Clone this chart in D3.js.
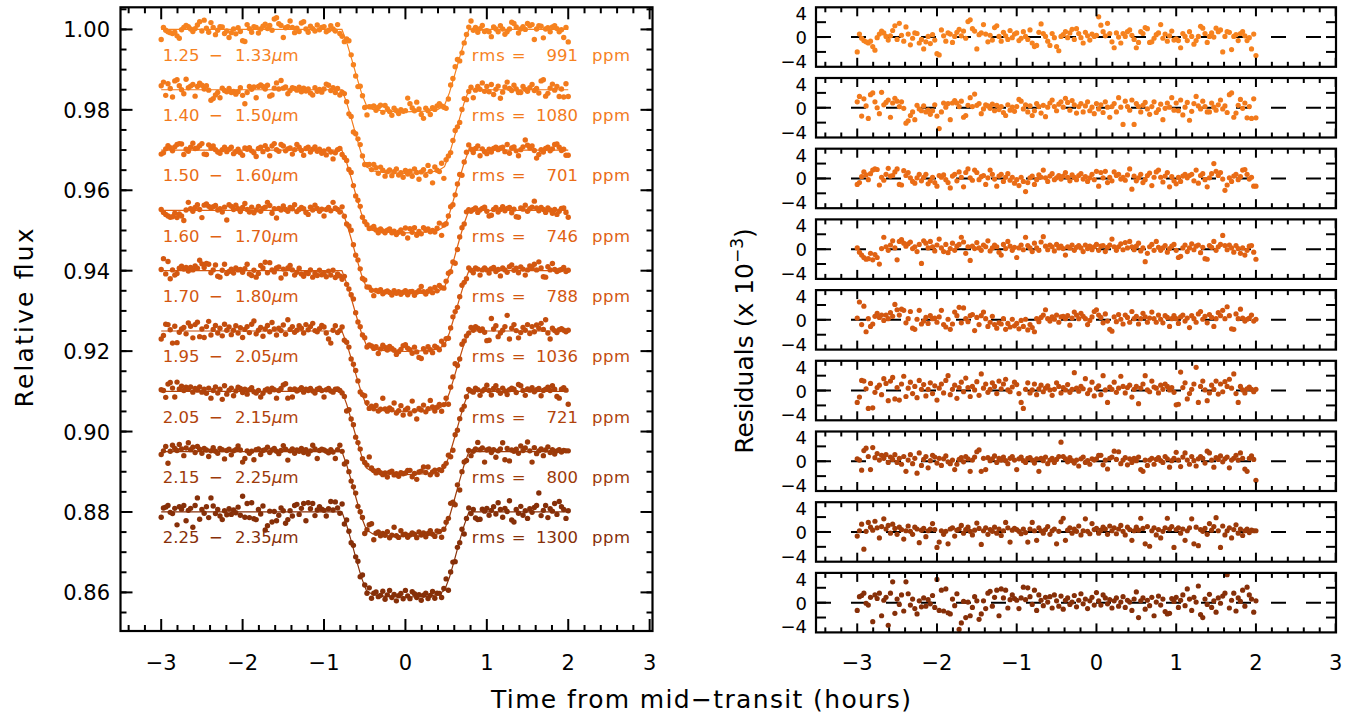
<!DOCTYPE html>
<html><head><meta charset="utf-8">
<script src="https://cdn.jsdelivr.net/npm/d3@7"></script>
<style>
body{margin:0;background:#fff;}
svg{display:block;font-family:"DejaVu Sans",sans-serif;}
</style></head><body>
<svg id="chart" width="1351" height="718"></svg>
<script>
// ---------------- DATA ----------------
const bandLo = ["1.25","1.40","1.50","1.60","1.70","1.95","2.05","2.15","2.25"];
const bandHi = ["1.33","1.50","1.60","1.70","1.80","2.05","2.15","2.25","2.35"];
const rmsPpm = [991,1080,701,746,788,1036,721,800,1300];
const baselines = [1.000,0.985,0.970,0.955,0.940,0.925,0.910,0.895,0.880];
const depths = [0.0205,0.0208,0.0206,0.0208,0.0201,0.0200,0.0207,0.0211,0.0212];
const colors = ["#F6821F","#F27A1C","#EA6C16","#E06213","#D35710","#C34D0D","#B0430B","#9C3A09","#862F08"];
// transit model: normalised depth profile at knots (hours)
const modelTimes = [-3.0,-0.78,-0.72,-0.66,-0.60,-0.54,-0.48,-0.40,-0.25,0,0.25,0.40,0.48,0.54,0.60,0.66,0.72,0.78,2.0];
const modelShape = [0,0,0.16,0.36,0.57,0.77,0.92,0.97,0.99,1.0,0.99,0.97,0.92,0.77,0.57,0.36,0.16,0,0];
// observation times: 181 exposures from -3 h to +2 h
const nObs = 181, tStart = -3.0, tCadence = 1/36;
const times = d3.range(nObs).map(k => tStart + k * tCadence);
// residuals (x 1e-3)
const res1 = [-2.5,0.5,-0.2,-0.6,-0.8,-1.0,-0.7,-1.6,-2.2,-0.1,0.5,1.0,0.7,0.1,-0.5,0.2,1.1,1.9,-0.4,2.3,0.3,-0.7,1.7,0.5,-1.3,-0.2,0.7,0.6,-1.0,-0.4,-2.0,-0.8,0.1,-1.1,0.4,-0.5,
 -2.8,-3.0,1.2,0.2,-0.7,0.7,0.5,-0.9,0.1,0.8,1.3,0.2,1.0,-0.2,2.6,2.9,1.4,1.0,-2.0,0.4,0.7,2.1,0.5,-0.8,0.3,-0.5,1.6,1.9,0.1,-0.7,0.8,0.2,-0.4,1.1,-0.1,0.5,
 0.7,-0.6,-0.2,0.9,0.1,-0.4,1.2,-1.0,-1.6,-1.4,0.8,2.2,0.6,0.1,-0.7,-1.4,0.6,-0.1,-1.6,-2.3,0.1,0.4,0.9,-0.1,0.7,1.3,-0.4,1.4,0.6,-0.1,-1.0,0.8,0.2,-0.5,0.5,0.1,
 0.3,3.4,2.0,0.9,0.2,2.3,0.6,-0.8,-1.8,0.7,0.0,-1.0,0.6,0.1,0.9,1.2,0.3,-0.4,-1.8,-0.9,0.9,0.6,1.6,1.4,-0.9,-0.8,-0.2,0.4,0.7,2.1,-0.2,0.5,-0.7,0.2,1.0,-0.5,
 -0.3,-0.6,-1.8,0.6,0.1,-0.6,0.9,0.1,-1.2,-0.6,0.1,1.8,1.5,0.6,-0.9,0.1,0.7,0.0,1.5,0.9,1.2,-2.5,0.1,0.9,0.8,-2.1,0.1,0.4,-0.6,0.6,0.9,0.2,-0.6,-0.1,-2.0,0.5,
 -3.1];
const res2 = [1.0,1.9,-1.4,1.5,0.3,-1.8,2.2,2.5,1.0,0.0,-1.0,2.6,0.5,0.9,1.3,-1.6,0.8,1.6,1.1,0.2,1.0,-0.1,-2.6,-2.2,-1.3,-0.7,-2.0,0.4,-0.2,-0.5,0.3,-0.7,-0.4,-1.1,-0.5,0.5,
 -1.4,-3.5,-0.7,0.8,0.1,0.7,-2.0,0.8,1.2,0.8,0.2,1.1,-1.6,-1.3,0.4,1.7,0.2,2.3,0.4,0.7,-1.0,-0.2,0.5,0.3,-0.1,0.6,-0.5,0.4,-0.3,0.2,-0.8,-1.3,0.5,-0.4,0.1,-0.6,
 0.2,1.4,1.1,-0.2,0.5,-0.7,0.3,-1.3,-0.5,0.7,0.2,-0.9,0.4,-1.5,0.1,0.8,1.3,0.2,-0.5,0.6,1.0,0.1,1.6,0.9,-0.4,1.2,0.5,-0.9,0.2,0.7,-0.7,0.3,1.0,-0.5,0.1,-1.0,
 0.7,-0.2,0.5,-0.8,1.0,0.1,-1.6,0.2,0.7,-0.7,1.7,0.1,-2.8,1.1,0.2,-0.4,1.3,-2.8,0.7,0.2,-0.7,0.4,0.9,-0.2,-1.1,0.2,1.0,-0.8,-0.3,0.6,-2.0,-0.1,0.8,0.1,1.7,-0.4,
 0.8,-0.5,1.3,-1.2,0.1,0.9,-2.1,-0.6,0.7,1.9,0.3,-0.2,1.1,0.2,-0.7,-0.7,0.8,0.1,-0.4,0.5,1.3,-0.2,0.3,-0.8,2.2,2.5,-1.6,-0.9,0.4,1.4,-0.1,0.8,-1.7,0.2,-1.8,1.5,
 -1.7];
const res3 = [-1.0,-0.7,0.3,1.1,0.6,-0.2,0.8,1.4,1.6,1.5,-1.1,0.2,-0.3,0.7,1.7,0.4,0.5,1.1,1.6,-1.0,-1.1,1.3,0.5,1.0,0.1,-0.5,-0.8,0.1,0.7,-0.4,0.2,0.7,-0.9,-0.4,0.2,-0.7,
 -1.3,0.5,0.2,0.6,-0.2,-0.7,-1.6,0.4,0.7,-0.4,1.1,0.2,-1.4,1.0,1.6,0.1,-0.3,1.4,1.0,-0.2,0.3,0.5,-1.0,0.1,1.4,0.7,-0.1,-1.3,0.4,0.7,-0.5,0.2,0.8,-0.3,0.2,-0.8,
 -0.2,-1.2,0.2,-0.5,-2.2,-0.7,0.1,0.4,-1.0,-0.2,0.6,0.2,1.4,0.1,-0.5,0.4,0.8,-0.2,0.1,0.5,-0.1,0.4,1.0,0.2,-0.4,0.6,0.2,-0.2,0.5,0.8,-0.1,0.3,-0.5,0.1,0.7,-0.2,
 1.2,-1.3,1.0,0.1,1.2,-0.7,0.2,-0.4,1.1,0.5,0.7,-0.1,0.2,-0.3,0.6,1.6,-1.8,0.4,-0.4,0.1,0.7,-0.7,-0.2,0.5,0.9,-1.2,0.2,1.1,1.4,0.2,-0.6,0.4,1.0,-1.4,0.3,-0.4,
 -0.9,0.2,-0.5,0.4,0.7,0.1,0.5,0.7,-0.4,1.4,-0.8,0.5,0.8,-0.2,-1.4,0.1,0.8,2.5,1.2,0.5,1.0,-0.1,-2.0,-1.1,0.1,-0.5,0.4,0.7,-0.2,0.3,1.4,1.5,0.7,-0.1,0.2,-1.3,
 -1.3];
const res4 = [0.2,-0.5,-1.0,-1.4,-1.7,-1.6,-0.7,-1.8,-0.9,-1.4,-2.5,0.1,2.0,0.4,-0.2,0.7,1.4,0.2,-1.8,1.3,1.6,1.0,0.5,0.9,1.2,0.1,0.4,-0.4,0.8,-2.4,1.4,1.0,0.2,1.3,0.4,-0.3,
 0.7,1.7,0.2,-0.4,0.8,-0.6,0.1,1.0,-0.2,0.5,0.8,2.0,1.2,-0.7,0.4,-1.9,0.5,0.1,1.1,0.2,-0.2,0.7,0.4,1.4,-0.3,0.2,0.7,0.4,-0.5,-1.0,0.8,0.1,1.3,0.5,-0.2,0.3,
 -1.4,0.2,0.7,-0.1,2.0,0.6,0.2,-0.4,1.0,0.2,-0.2,1.2,2.1,0.5,-0.1,0.7,0.4,-0.3,0.8,0.2,0.5,0.1,-1.0,0.4,0.2,0.7,-0.2,0.3,0.6,0.2,-0.4,0.7,0.1,0.5,-0.1,0.4,
 0.8,-0.2,0.5,0.6,-0.4,0.3,0.7,1.7,0.4,-0.2,0.4,0.9,-0.1,1.1,0.2,1.3,0.4,-0.1,0.5,1.0,-0.3,0.2,-2.1,-0.7,0.4,0.8,-0.2,1.3,0.3,-0.2,0.2,0.6,-0.5,0.1,0.5,0.8,
 -0.2,-1.4,-1.2,0.2,0.7,-0.4,0.2,0.9,-0.1,0.5,0.7,-0.6,0.3,-1.6,-1.7,0.6,0.3,1.3,-0.2,0.4,0.8,2.3,0.6,-0.1,0.7,0.2,-0.5,0.6,0.1,-0.7,0.2,-1.0,-0.2,0.5,0.6,-0.5,
 -1.7];
const res5 = [0.3,3.0,-0.8,2.3,-2.0,0.2,-1.1,-0.7,0.6,1.1,0.4,0.8,-0.1,0.8,0.2,1.2,0.6,2.6,1.7,0.8,1.8,1.6,-0.5,0.2,1.4,-1.4,-1.6,0.1,1.6,-0.7,-0.2,0.4,-0.6,0.7,0.2,0.3,
 -0.4,0.5,1.6,-0.8,-1.2,0.1,-1.6,-0.7,1.3,0.7,2.1,-0.5,2.0,0.2,-0.3,0.7,0.9,-1.8,0.4,-0.8,0.7,1.3,0.2,-1.1,-0.4,0.6,-0.8,-1.4,-0.5,-0.7,0.2,-1.6,-0.6,-1.2,0.1,-1.0,
 -0.6,-1.5,-0.1,-1.1,0.1,-1.7,-0.8,-1.3,-2.0,0.2,-0.3,0.4,0.8,1.7,0.2,-0.2,0.5,0.1,0.8,-0.4,0.5,0.6,0.2,0.7,-0.9,0.3,1.3,0.8,0.2,1.1,0.6,0.2,-0.8,-0.1,0.5,1.4,
 1.7,0.8,0.4,-0.5,1.0,-0.2,-1.6,-1.9,0.5,-0.3,0.9,0.1,-0.7,0.8,0.4,-0.4,1.4,0.2,0.6,-0.7,0.2,1.1,0.5,-0.4,0.3,1.3,0.2,-0.4,0.8,0.1,-0.5,0.7,0.4,-1.1,0.2,0.7,
 0.2,-0.6,0.5,0.8,-0.2,0.3,-1.3,0.7,0.2,-0.4,1.0,1.4,0.1,0.6,-0.5,0.9,0.4,-1.1,0.2,1.2,0.7,1.6,0.2,2.2,0.7,-1.5,-1.6,1.0,0.2,1.8,0.3,-0.2,0.1,0.3,0.8,-0.2,
 0.1];
const res6 = [-2.0,-1.1,1.7,1.6,0.3,-3.0,1.2,-2.9,-0.3,0.5,0.9,-0.7,2.0,1.2,-1.7,1.6,2.2,-1.4,0.5,-1.6,1.1,2.4,-1.0,0.4,1.4,-0.5,0.7,-1.2,1.7,0.2,1.0,-0.9,0.2,1.3,-0.5,0.8,
 -1.6,0.4,1.1,-0.4,1.7,2.5,-0.7,0.2,0.9,-1.3,0.5,1.4,-0.2,2.1,0.5,-1.0,0.7,0.1,1.5,-0.8,2.8,0.4,1.1,-0.3,0.2,1.3,0.7,-0.5,1.6,0.3,1.1,1.9,0.1,-0.2,0.6,1.4,
 1.0,-0.5,-2.0,-3.0,0.2,1.3,-0.4,0.1,1.1,-0.7,0.3,0.9,-0.2,0.4,0.8,0.1,-0.8,0.2,1.3,0.7,-0.4,0.5,0.1,1.0,-0.3,0.2,3.0,0.4,-0.1,0.7,0.3,2.0,-0.5,0.1,1.4,-0.9,
 0.4,0.8,-0.7,2.5,0.1,-2.0,0.6,0.2,1.4,-0.3,0.4,2.4,0.7,-0.4,0.5,0.9,-1.1,0.2,0.7,-2.2,0.4,1.1,2.5,0.1,-0.2,1.6,0.6,0.4,-0.4,0.9,0.2,1.1,0.7,0.1,0.5,-0.3,
 -2.4,-2.3,3.1,0.5,1.3,-1.4,-0.5,0.2,1.1,3.9,-2.0,0.7,1.6,0.1,-1.7,-0.4,0.9,0.2,1.6,-0.6,1.1,-0.2,1.5,0.7,1.9,0.4,2.8,-0.5,-2.0,0.7,0.1,-0.4,0.3,0.6,0.2,-0.2,
 0.2];
const res7 = [0.4,0.2,-1.5,1.8,2.2,0.8,-1.4,2.3,0.6,1.3,0.2,1.0,0.5,1.1,-0.2,0.7,0.3,1.1,-0.2,0.5,-0.5,0.8,-1.7,0.2,1.1,-0.4,0.5,-2.0,1.4,-0.7,0.3,0.8,-1.1,0.1,1.0,0.7,
 -0.3,0.5,-0.7,0.4,0.9,-0.1,-0.4,0.2,-1.4,-0.5,0.3,0.6,-0.1,0.8,0.4,-1.7,0.2,0.7,1.6,1.9,-1.7,0.5,-1.4,0.6,0.1,0.4,0.9,-0.2,0.5,0.2,0.7,0.1,-0.4,0.5,0.8,0.2,
 -1.4,0.4,0.7,0.1,-0.2,0.5,0.6,0.2,-0.3,0.4,-1.7,0.5,0.1,0.7,-0.4,0.2,0.5,-0.2,0.3,0.8,3.2,0.8,0.4,-0.1,0.6,0.1,-0.3,0.2,-0.8,0.4,0.7,-0.2,0.1,-0.5,0.4,0.2,
 0.4,1.0,1.0,-0.6,0.2,-1.3,0.5,0.7,1.7,0.3,1.6,-0.4,0.2,0.6,-0.6,0.4,-0.2,0.5,0.1,0.7,-1.4,-1.7,0.2,-0.7,0.2,0.5,-0.5,0.3,0.6,0.1,-0.2,0.8,0.4,-1.0,0.1,0.5,
 1.5,0.2,-0.9,0.7,1.4,0.2,-0.5,0.8,0.1,-0.8,0.4,0.8,0.5,-0.3,1.7,1.4,0.2,-1.0,0.6,0.3,0.9,-0.1,0.4,0.7,-1.1,0.2,0.5,1.0,0.2,1.4,0.5,-1.3,-1.7,0.5,0.9,0.3,
 -3.2];
const res8 = [-0.7,0.2,1.3,-2.9,0.1,1.6,0.8,0.3,1.8,0.7,-1.0,0.9,2.2,0.5,1.1,-0.2,1.3,0.6,-0.4,0.8,0.4,-1.2,0.2,1.0,0.1,-0.4,0.8,0.5,-1.8,0.3,0.6,-0.8,0.2,0.5,1.4,0.4,
 -2.6,-1.7,0.2,-0.4,0.1,-2.0,0.5,0.7,-0.7,0.3,0.5,1.1,-0.2,0.4,0.8,0.1,-0.5,0.3,1.5,0.6,-2.1,0.2,0.7,-0.4,0.4,0.1,0.8,-0.2,0.5,-0.6,0.2,1.6,0.7,-1.7,0.3,0.6,
 0.4,0.1,-0.3,0.5,-0.1,-1.7,0.5,1.6,0.2,-1.4,0.7,0.2,-0.2,0.4,0.9,-0.4,0.2,0.5,-2.0,0.1,1.7,2.3,-1.4,0.3,0.7,-0.2,0.5,0.1,1.0,-0.5,0.2,2.2,0.1,-0.3,1.4,0.4,
 0.6,-0.2,0.3,0.8,0.5,-0.4,1.0,0.2,0.7,-0.3,0.5,1.1,0.1,-0.5,0.8,0.4,-1.4,0.2,0.8,0.3,2.3,0.6,-2.0,0.9,-2.4,0.2,0.7,-0.5,0.4,-1.0,0.1,0.7,2.3,0.5,0.9,-2.6,
 0.4,0.7,-0.2,0.5,-1.4,0.2,0.7,2.2,-2.0,0.8,-2.3,0.4,0.1,0.6,-0.4,1.4,0.3,0.9,2.4,0.2,-2.6,1.0,-0.5,0.2,0.7,-1.0,0.4,1.2,-0.2,0.5,-0.6,0.2,0.5,-0.1,0.3,0.2,
 0.2];
const res9 = [-1.3,1.0,1.2,1.6,-0.1,-0.4,0.9,-3.2,1.3,0.7,1.6,-2.2,0.4,0.9,-3.8,1.6,3.5,-1.8,0.6,-0.3,1.3,-1.4,3.5,1.5,-0.4,0.6,-1.0,-1.9,0.3,-0.7,0.8,-0.6,0.5,-0.2,1.2,-0.8,
 3.9,-1.3,2.1,-1.4,2.3,-1.7,-1.9,0.6,-0.5,1.5,-4.5,-3.4,0.2,-2.5,0.1,-2.2,-0.8,1.0,0.3,-2.8,-1.9,0.3,-1.0,1.6,1.9,-0.6,0.9,2.1,-2.2,2.3,0.8,2.1,-0.9,0.5,1.3,0.7,
 0.4,-1.0,0.8,2.6,0.5,2.5,1.0,-0.3,2.1,-1.3,1.3,0.4,-0.5,0.9,0.1,1.0,-0.9,1.3,0.3,-0.6,1.1,-1.1,0.4,0.8,-0.3,0.1,1.2,-0.7,0.4,1.5,-0.2,0.6,-1.0,0.3,0.9,-0.4,
 1.7,0.3,-0.4,1.3,0.8,-0.2,0.5,-0.9,0.3,0.8,-0.6,0.1,1.0,-0.8,0.4,0.1,-1.3,0.6,1.8,-2.5,0.3,0.8,-1.1,0.4,-0.5,0.9,-2.2,0.1,1.1,-0.4,0.6,-1.5,-1.9,-1.8,0.7,0.2,
 0.9,-0.8,0.4,1.3,-0.5,2.3,0.6,-1.3,0.9,0.1,2.8,-2.0,-2.5,0.6,-0.3,1.4,-0.8,0.3,-1.6,0.8,-0.1,1.1,1.6,4.7,-0.9,0.4,1.6,-1.4,0.8,0.2,2.1,-0.6,2.6,1.3,0.6,-1.6,
 0.3];
const residuals = [res1,res2,res3,res4,res5,res6,res7,res8,res9];
const timeTicks = [-3,-2,-1,0,1,2,3];
const fluxTicks = [0.86,0.88,0.90,0.92,0.94,0.96,0.98,1.00];
const residLabels = [-4,0,4];
const residTickMarks = [-2.5,0,2.5];

// ---------------- DRAWING ----------------
const svg = d3.select("#chart");
const shape = d3.scaleLinear().domain(modelTimes).range(modelShape);
const minorT = d3.range(-34, 31, 2).map(v => v / 10).filter(v => Math.abs(v - Math.round(v)) > 1e-6);
const minorF = d3.range(171, 202, 1).map(v => v * 0.005).filter(v => v > 0.851 && v < 1.0055);

function tickLine(g, x1, y1, x2, y2) {
  g.append("line").attr("x1", x1).attr("y1", y1).attr("x2", x2).attr("y2", y2)
    .attr("stroke", "#000").attr("stroke-width", 2);
}

// ---- left panel ----
const xL = d3.scaleLinear().domain([-3.5, 3.035]).range([120.5, 652.5]);
const yL = d3.scaleLinear().domain([0.8504, 1.0055]).range([631, 7.3]);
const gL = svg.append("g");
const lineL = d3.line().x(d => xL(d[0])).y(d => yL(d[1]));

baselines.forEach((b, i) => {
  const g = gL.append("g");
  const modelPts = modelTimes.map(t => [t, b - depths[i] * shape(t)]);
  g.append("path").attr("d", lineL(modelPts)).attr("fill", "none")
    .attr("stroke", colors[i]).attr("stroke-width", 1.2);
  const pts = times.map((t, k) => [t, b - depths[i] * shape(t) + residuals[i][k] / 1000]);
  g.selectAll("circle").data(pts).join("circle")
    .attr("cx", d => xL(d[0])).attr("cy", d => yL(d[1])).attr("r", 2.7)
    .attr("fill", colors[i]);
  const yb = yL(b - 0.00778);
  const t1 = g.append("text").attr("y", yb).attr("fill", colors[i]).attr("font-size", 16.5);
  t1.append("tspan").attr("x", 162.7).text(bandLo[i]);
  t1.append("tspan").attr("x", 209).text("\u2212");
  t1.append("tspan").attr("x", 235).text(bandHi[i]);
  t1.append("tspan").attr("x", 272).attr("font-style", "italic").text("\u00b5");
  t1.append("tspan").text("m");
  g.append("text").attr("x", 471.7).attr("y", yb).attr("fill", colors[i]).attr("font-size", 16.5)
    .attr("textLength", 54).text("rms =");
  g.append("text").attr("x", 578).attr("y", yb).attr("fill", colors[i]).attr("font-size", 16.5)
    .attr("text-anchor", "end").text(rmsPpm[i]);
  g.append("text").attr("x", 592).attr("y", yb).attr("fill", colors[i]).attr("font-size", 16.5)
    .attr("textLength", 38).text("ppm");
});

// frame + ticks
{
  const [x0, x1] = xL.range(), [y0, y1] = yL.range();
  const g = gL.append("g");
  timeTicks.forEach(v => { tickLine(g, xL(v), y0, xL(v), y0 - 12); tickLine(g, xL(v), y1, xL(v), y1 + 12); });
  minorT.forEach(v => { tickLine(g, xL(v), y0, xL(v), y0 - 6); tickLine(g, xL(v), y1, xL(v), y1 + 6); });
  fluxTicks.forEach(v => { tickLine(g, x0, yL(v), x0 + 12, yL(v)); tickLine(g, x1, yL(v), x1 - 12, yL(v)); });
  minorF.forEach(v => { tickLine(g, x0, yL(v), x0 + 6, yL(v)); tickLine(g, x1, yL(v), x1 - 6, yL(v)); });
  g.append("rect").attr("x", x0).attr("y", y1).attr("width", x1 - x0).attr("height", y0 - y1)
    .attr("fill", "none").attr("stroke", "#000").attr("stroke-width", 2.2);
  g.selectAll("text.xl").data(timeTicks).join("text").attr("class", "xl")
    .attr("x", d => xL(d)).attr("y", 670).attr("text-anchor", "middle").attr("font-size", 21)
    .text(d => d < 0 ? "\u2212" + Math.abs(d) : d);
  g.selectAll("text.yl").data(fluxTicks).join("text").attr("class", "yl")
    .attr("x", 110).attr("y", d => yL(d) + 8).attr("text-anchor", "end").attr("font-size", 21)
    .text(d => d3.format(".2f")(d));
}

// ---- right panels ----
const xR = d3.scaleLinear().domain([-3.517, 3.004]).range([816, 1336]);
residuals.forEach((r, i) => {
  const top = 7.3 + 70.7 * i;
  const yR = d3.scaleLinear().domain([-5, 5]).range([top + 59.5, top]);
  const g = svg.append("g");
  const cid = "clip" + i;
  g.append("clipPath").attr("id", cid).append("rect")
    .attr("x", 816).attr("y", top).attr("width", 520).attr("height", 59.5);
  g.append("line").attr("x1", 816).attr("x2", 1336).attr("y1", yR(0)).attr("y2", yR(0))
    .attr("stroke", "#000").attr("stroke-width", 2).attr("stroke-dasharray", "15,20");
  g.append("g").attr("clip-path", `url(#${cid})`).selectAll("circle").data(r).join("circle")
    .attr("cx", (d, k) => xR(times[k])).attr("cy", d => yR(d)).attr("r", 2.6).attr("fill", colors[i]);
  const [y0, y1] = yR.range();
  timeTicks.forEach(v => { tickLine(g, xR(v), y0, xR(v), y0 - 9); tickLine(g, xR(v), y1, xR(v), y1 + 9); });
  minorT.forEach(v => { tickLine(g, xR(v), y0, xR(v), y0 - 5); tickLine(g, xR(v), y1, xR(v), y1 + 5); });
  residTickMarks.forEach(v => { tickLine(g, 816, yR(v), 826, yR(v)); tickLine(g, 1336, yR(v), 1326, yR(v)); });
  g.append("rect").attr("x", 816).attr("y", top).attr("width", 520).attr("height", 59.5)
    .attr("fill", "none").attr("stroke", "#000").attr("stroke-width", 2.2);
  g.selectAll("text.yr").data(residLabels).join("text").attr("class", "yr")
    .attr("x", 807).attr("y", d => yR(d) + 7).attr("text-anchor", "end").attr("font-size", 18)
    .text(d => d < 0 ? "\u2212" + Math.abs(d) : d);
  if (i === residuals.length - 1) {
    g.selectAll("text.xr").data(timeTicks).join("text").attr("class", "xr")
      .attr("x", d => xR(d)).attr("y", 670).attr("text-anchor", "middle").attr("font-size", 21)
      .text(d => d < 0 ? "\u2212" + Math.abs(d) : d);
  }
});

// ---- titles ----
svg.append("text").attr("transform", "translate(33,318) rotate(-90)").attr("text-anchor", "middle")
  .attr("font-size", 25).attr("textLength", 179).text("Relative flux");
const rt = svg.append("text").attr("transform", "translate(753,341) rotate(-90)").attr("text-anchor", "middle")
  .attr("font-size", 25);
rt.append("tspan").text("Residuals (x 10");
rt.append("tspan").attr("dy", -10).attr("font-size", 17).text("\u22123");
rt.append("tspan").attr("dy", 10).text(")");
svg.append("text").attr("x", 701).attr("y", 708).attr("text-anchor", "middle")
  .attr("font-size", 25).attr("textLength", 420).text("Time from mid\u2212transit (hours)");
</script>
</body></html>
